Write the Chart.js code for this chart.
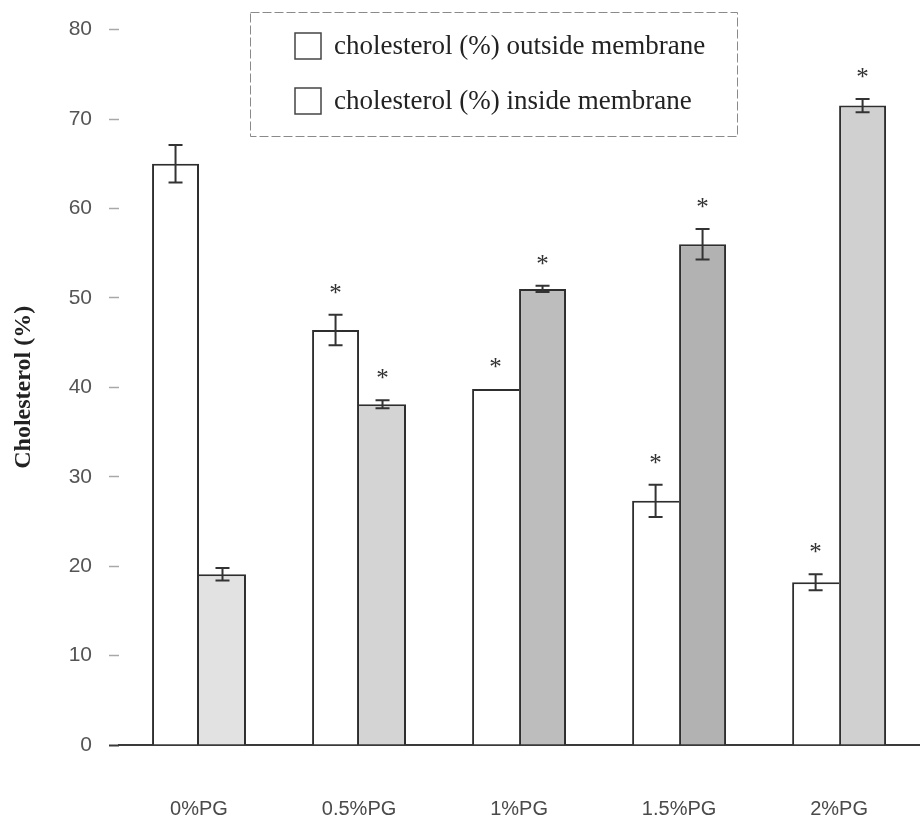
<!DOCTYPE html>
<html>
<head>
<meta charset="utf-8">
<script src="https://cdn.jsdelivr.net/npm/chart.js@4.4.1/dist/chart.umd.min.js"></script>
<style>
  html, body { margin: 0; padding: 0; background: #ffffff; overflow: hidden; }
  #wrap { width: 920px; height: 823px; position: relative; }
</style>
</head>
<body>
<div id="wrap"><canvas id="c" width="920" height="823"></canvas></div>
<script>
// ---- data ----
const categories = ['0%PG', '0.5%PG', '1%PG', '1.5%PG', '2%PG'];
const outsideLabel = 'cholesterol (%) outside membrane';
const insideLabel = 'cholesterol (%) inside membrane';
const outsideValues = [65.0, 46.4, 39.8, 27.3, 18.2];
const insideValues = [19.1, 38.1, 51.0, 56.0, 71.5];
const outsideErrors = [2.1, 1.7, 0, 1.8, 0.9];
const insideErrors = [0.7, 0.45, 0.35, 1.7, 0.75];
const outsideSignificant = [false, true, true, true, true];
const insideSignificant = [false, true, true, true, true];
const yTickValues = [0, 10, 20, 30, 40, 50, 60, 70, 80];
const yAxisTitle = 'Cholesterol (%)';

// ---- styles ----
const insideFills = ['#e2e2e2', '#d4d4d4', '#bdbdbd', '#b2b2b2', '#d0d0d0'];
const edge = '#2e2e2e';

const errorBarPlugin = {
  id: 'errorBars',
  afterDatasetsDraw(chart) {
    const ctx = chart.ctx;
    const y = chart.scales.y;
    const errs = [outsideErrors, insideErrors];
    const sig = [outsideSignificant, insideSignificant];
    chart.data.datasets.forEach((ds, di) => {
      const meta = chart.getDatasetMeta(di);
      meta.data.forEach((bar, i) => {
        const v = ds.data[i];
        const e = errs[di][i];
        const x = bar.x;
        const top = y.getPixelForValue(v + e);
        if (e > 0) {
          const bot = y.getPixelForValue(v - e);
          ctx.save();
          ctx.strokeStyle = '#333';
          ctx.lineWidth = 2;
          ctx.beginPath();
          ctx.moveTo(x, top); ctx.lineTo(x, bot);
          ctx.moveTo(x - 7, top); ctx.lineTo(x + 7, top);
          ctx.moveTo(x - 7, bot); ctx.lineTo(x + 7, bot);
          ctx.stroke();
          ctx.restore();
        }
        if (sig[di][i]) {
          ctx.save();
          ctx.fillStyle = '#333';
          ctx.font = '25px "Liberation Serif", serif';
          ctx.textAlign = 'center';
          ctx.textBaseline = 'alphabetic';
          ctx.fillText('*', x, top - 26 + 12);
          ctx.restore();
        }
      });
    });
  }
};

const boxLegendPlugin = {
  id: 'boxLegend',
  afterDraw(chart) {
    const ctx = chart.ctx;
    const bx = 250, by = 12, bw = 487, bh = 124;
    ctx.save();
    ctx.strokeStyle = '#8a8a8a';
    ctx.lineWidth = 1;
    ctx.setLineDash([9, 3]);
    ctx.strokeRect(bx + 0.5, by + 0.5, bw, bh);
    ctx.setLineDash([]);
    const rows = [by + 34, by + 89];
    chart.data.datasets.forEach((ds, i) => {
      const cy = rows[i];
      ctx.fillStyle = '#ffffff';
      ctx.fillRect(bx + 45, cy - 13, 26, 26);
      ctx.strokeStyle = '#444';
      ctx.lineWidth = 1.5;
      ctx.strokeRect(bx + 45, cy - 13, 26, 26);
      ctx.fillStyle = '#222';
      ctx.font = '27px "Liberation Serif", serif';
      ctx.textAlign = 'left';
      ctx.textBaseline = 'middle';
      ctx.fillText(ds.label, bx + 84, cy + 1);
    });
    ctx.restore();
  }
};

const chart = new Chart(document.getElementById('c'), {
  type: 'bar',
  data: {
    labels: categories,
    datasets: [
      {
        label: outsideLabel,
        data: outsideValues,
        backgroundColor: '#ffffff',
        borderColor: edge,
        borderWidth: (c) => ({
          top: 2, left: 2, bottom: 0,
          right: outsideValues[c.dataIndex] >= insideValues[c.dataIndex] ? 2 : 0
        }),
        borderSkipped: false,
        categoryPercentage: 0.587,
        barPercentage: 1.0
      },
      {
        label: insideLabel,
        data: insideValues,
        backgroundColor: insideFills,
        borderColor: edge,
        borderWidth: (c) => ({
          top: 2, right: 2, bottom: 0,
          left: insideValues[c.dataIndex] > outsideValues[c.dataIndex] ? 2 : 0
        }),
        borderSkipped: false,
        categoryPercentage: 0.587,
        barPercentage: 1.0
      }
    ]
  },
  options: {
    responsive: false,
    animation: false,
    devicePixelRatio: 1,
    layout: { padding: { top: 16, left: 0, right: 0, bottom: 0 } },
    plugins: {
      legend: { display: false },
      tooltip: { enabled: false }
    },
    scales: {
      x: {
        offset: true,
        grid: { display: false, drawTicks: false },
        border: { display: true, color: '#3a3a3a', width: 2 },
        ticks: {
          color: '#4a4a4a',
          font: { family: '"Liberation Sans", Arial, sans-serif', size: 20 },
          padding: 52,
          maxRotation: 0
        },
        afterFit(scale) { scale.height = 78; }
      },
      y: {
        min: 0,
        max: 80,
        afterBuildTicks(scale) { scale.ticks = yTickValues.map(v => ({ value: v })); },
        border: { display: false },
        grid: {
          display: true,
          drawOnChartArea: false,
          drawTicks: true,
          tickLength: 10,
          tickColor: (c) => (c.tick && c.tick.value === 0 ? '#3a3a3a' : '#a8a8a8'),
          tickWidth: (c) => (c.tick && c.tick.value === 0 ? 2 : 1.5)
        },
        ticks: {
          color: '#555',
          font: { family: '"Liberation Sans", Arial, sans-serif', size: 21 },
          padding: 17
        },
        title: {
          display: true,
          text: yAxisTitle,
          color: '#222',
          font: { family: '"Liberation Serif", "Times New Roman", serif', size: 24, weight: 'bold' },
          padding: { top: 9, bottom: 0 }
        },
        afterFit(scale) { scale.width = 119; }
      }
    }
  },
  plugins: [errorBarPlugin, boxLegendPlugin]
});
</script>
</body>
</html>
